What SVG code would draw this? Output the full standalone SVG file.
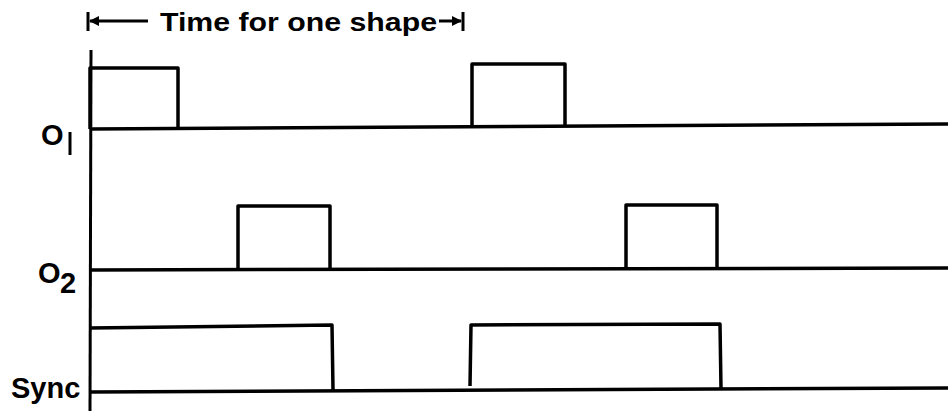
<svg xmlns="http://www.w3.org/2000/svg" width="948" height="411" viewBox="0 0 948 411">
<style>
.w{fill:none;stroke:#000;stroke-width:3.5;stroke-linejoin:round;stroke-linecap:butt}
.ax{fill:none;stroke:#000;stroke-width:3}
.t{font-family:"Liberation Sans",Arial,sans-serif;font-weight:bold;fill:#000}
</style>
<defs>
<marker id="ah" viewBox="0 0 10 10" refX="9" refY="5" markerUnits="userSpaceOnUse" markerWidth="11" markerHeight="10" orient="auto-start-reverse">
<path d="M10,5 L0,0 L0,10 Z" fill="#000"/>
</marker>
</defs>
<rect width="948" height="411" fill="#fff"/>
<g id="header">
<line class="ax" x1="88" y1="12" x2="88" y2="31"/>
<line class="ax" x1="90" y1="21" x2="148" y2="21" marker-start="url(#ah)"/>
<text class="t" x="160" y="31" font-size="26" textLength="277" lengthAdjust="spacingAndGlyphs">Time for one shape</text>
<line class="ax" x1="439" y1="21" x2="461" y2="21" marker-end="url(#ah)"/>
<line class="ax" x1="463" y1="12" x2="463" y2="31"/>
</g>
<g id="axis">
<line class="ax" x1="91" y1="50" x2="90" y2="411"/>
</g>
<g id="O1">
<text class="t" x="41" y="145" font-size="29">O</text>
<line class="ax" x1="70" y1="132" x2="70" y2="155" stroke-width="3.5"/>
<path class="w" d="M90,129 L90,68 L178,68 L178,128"/>
<path class="w" d="M472,126 L472,64 L565,64 L565,125"/>
<path class="w" d="M90,129 L948,124"/>
</g>
<g id="O2">
<text class="t" x="38" y="283" font-size="29">O</text>
<text class="t" x="60" y="293" font-size="29">2</text>
<path class="w" d="M238,269 L238,206 L330,206 L330,269"/>
<path class="w" d="M626,267 L626,205 L717,205 L717,267"/>
<path class="w" d="M90,270 L948,268"/>
</g>
<g id="Sync">
<text class="t" x="11" y="398" font-size="29">Sync</text>
<path class="w" d="M90,328 L332,325 L333,390"/>
<path class="w" d="M470,386 L471,325 L720,324 L721,389"/>
<path class="w" d="M90,392 L948,388"/>
</g>
</svg>
